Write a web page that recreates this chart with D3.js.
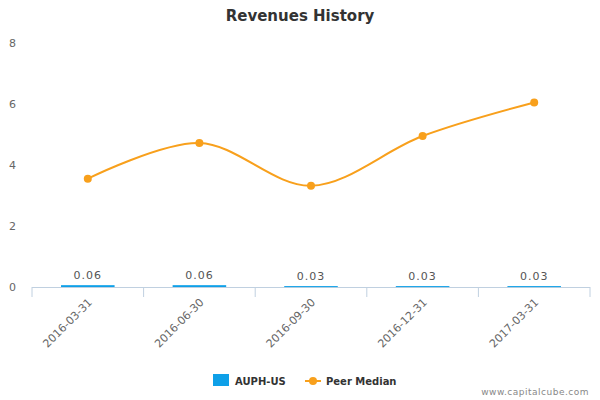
<!DOCTYPE html><html><head><meta charset="utf-8"><script src="https://cdn.jsdelivr.net/npm/d3@7"></script>
<style>body{margin:0;background:#fff}text{font-family:Verdana,"DejaVu Sans",sans-serif}</style></head><body>
<svg id="c" width="600" height="400"></svg>
<script>
const categories=["2016-03-31","2016-06-30","2016-09-30","2016-12-31","2017-03-31"];
const companyValues=[0.06,0.06,0.03,0.03,0.03];
const companyLabels=["0.06","0.06","0.03","0.03","0.03"];
const peerMedian=[3.55,4.72,3.32,4.95,6.05];
const yTicks=[0,2,4,6,8];
const svg=d3.select("#c");
const L=32,R=590,T=43,B=287;
const x=d3.scaleBand().domain(categories).range([L,R]).paddingInner(0.52).paddingOuter(0.26);
const y=d3.scaleLinear().domain([0,8]).range([B,T]);
svg.append("text").attr("x",300).attr("y",21).attr("text-anchor","middle").attr("font-size",15).attr("font-weight","bold").attr("fill","#333").text("Revenues History");
const yg=svg.append("g");
yTicks.forEach(t=>yg.append("text").attr("x",16).attr("y",y(t)+4).attr("text-anchor","end").attr("font-size",11).attr("fill","#666").text(t));
svg.append("line").attr("x1",L).attr("x2",R).attr("y1",B+0.5).attr("y2",B+0.5).attr("stroke","#c0d0e0");
const xo=d3.scaleBand().domain(categories).range([L,R]);
categories.concat([null]).forEach((c,i)=>{const px=L+i*xo.step();svg.append("line").attr("x1",px).attr("x2",px).attr("y1",B).attr("y2",B+10).attr("stroke","#c0d0e0");});
svg.selectAll(".bar").data(companyValues).join("rect").attr("x",(d,i)=>x(categories[i])).attr("width",x.bandwidth()).attr("y",d=>y(d)).attr("height",d=>Math.max(1,B-y(d))).attr("fill","#0ea0e8");
svg.selectAll(".bl").data(companyLabels).join("text").attr("x",(d,i)=>x(categories[i])+x.bandwidth()/2).attr("y",(d,i)=>y(companyValues[i])-6).attr("text-anchor","middle").attr("font-size",11).attr("fill","#555").attr("letter-spacing",1).text(d=>d);
categories.forEach(c=>{const cx=x(c)+x.bandwidth()/2;svg.append("text").attr("transform",`translate(${cx+5},${B+16}) rotate(-45)`).attr("text-anchor","end").attr("font-size",11).attr("fill","#666").text(c);});
const cx=i=>x(categories[i])+x.bandwidth()/2;
svg.append("path").datum(peerMedian).attr("d",d3.line().x((d,i)=>cx(i)).y(d=>y(d)).curve(d3.curveCatmullRom.alpha(0.5))).attr("fill","none").attr("stroke","#f8a01c").attr("stroke-width",2);
svg.selectAll(".pt").data(peerMedian).join("circle").attr("cx",(d,i)=>cx(i)).attr("cy",d=>y(d)).attr("r",4).attr("fill","#f8a01c");
svg.append("rect").attr("x",213).attr("y",374).attr("width",16).attr("height",12).attr("fill","#0ea0e8");
svg.append("text").attr("x",235).attr("y",385).attr("font-size",10).attr("font-weight","bold").attr("fill","#333").text("AUPH-US");
svg.append("line").attr("x1",305).attr("x2",321).attr("y1",381).attr("y2",381).attr("stroke","#f8a01c").attr("stroke-width",2);
svg.append("circle").attr("cx",313).attr("cy",381).attr("r",4).attr("fill","#f8a01c");
svg.append("text").attr("x",326).attr("y",385).attr("font-size",10).attr("font-weight","bold").attr("fill","#333").text("Peer Median");
svg.append("text").attr("x",589).attr("y",395).attr("text-anchor","end").attr("font-size",9).attr("fill","#888").attr("letter-spacing",0.5).text("www.capitalcube.com");
</script></body></html>
